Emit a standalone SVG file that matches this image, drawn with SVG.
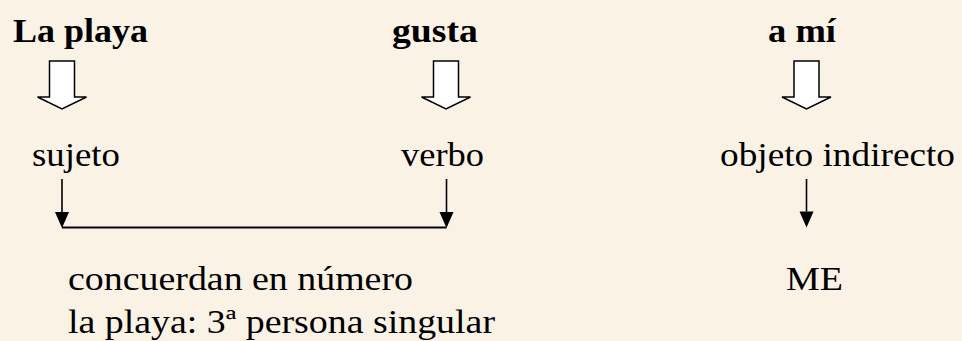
<svg xmlns="http://www.w3.org/2000/svg" width="962" height="341" viewBox="0 0 962 341">
<style>
.b{font-weight:bold;font-size:34px;fill:#000}
.r{font-size:34px;fill:#000}
.hollow{fill:#fff;stroke:#000;stroke-width:1.5;stroke-linejoin:miter}
.thin{stroke:#000;stroke-width:1.6;fill:none}
.line{stroke:#000;stroke-width:2;fill:none}
</style>
<defs>
<path id="hollowArrow" d="M-12.5,0 H12.5 V36 H24.5 L0,48 L-24.5,36 H-12.5 Z"/>
</defs>
<rect width="962" height="341" fill="#FBF2E6"/>
<g font-family="'Liberation Serif', 'Times New Roman', serif">
<g id="n-laplaya"><text class="b" x="13" y="42" textLength="135" lengthAdjust="spacingAndGlyphs">La playa</text></g>
<g id="n-gusta"><text class="b" x="392" y="42" textLength="86" lengthAdjust="spacingAndGlyphs">gusta</text></g>
<g id="n-ami"><text class="b" x="768" y="42" textLength="68" lengthAdjust="spacingAndGlyphs">a mí</text></g>
<g id="n-sujeto"><text class="r" x="32" y="166" textLength="88" lengthAdjust="spacingAndGlyphs">sujeto</text></g>
<g id="n-verbo"><text class="r" x="401" y="166" textLength="83" lengthAdjust="spacingAndGlyphs">verbo</text></g>
<g id="n-oi"><text class="r" x="720" y="166" textLength="235" lengthAdjust="spacingAndGlyphs">objeto indirecto</text></g>
<g id="n-concuerdan">
<text class="r" x="68" y="290" textLength="345" lengthAdjust="spacingAndGlyphs">concuerdan en número</text>
<text class="r" x="68" y="333" textLength="427" lengthAdjust="spacingAndGlyphs">la playa: 3ª persona singular</text>
</g>
<g id="n-me"><text class="r" x="786" y="290" textLength="57" lengthAdjust="spacingAndGlyphs">ME</text></g>
</g>
<g id="connectors">
<use href="#hollowArrow" class="hollow" transform="translate(62,61)"/>
<use href="#hollowArrow" class="hollow" transform="translate(446,61)"/>
<use href="#hollowArrow" class="hollow" transform="translate(806.5,61)"/>
<path class="line" d="M62,227.5 H446.5"/>
<path class="thin" d="M62,179 V212"/>
<path d="M55,212 H69 L62,228 Z" fill="#000"/>
<path class="thin" d="M446.5,179 V212"/>
<path d="M439.5,212 H453.5 L446.5,228 Z" fill="#000"/>
<path class="thin" d="M806.5,179 V211.5"/>
<path d="M799.5,211.5 H813.5 L806.5,227.5 Z" fill="#000"/>
</g>
</svg>
